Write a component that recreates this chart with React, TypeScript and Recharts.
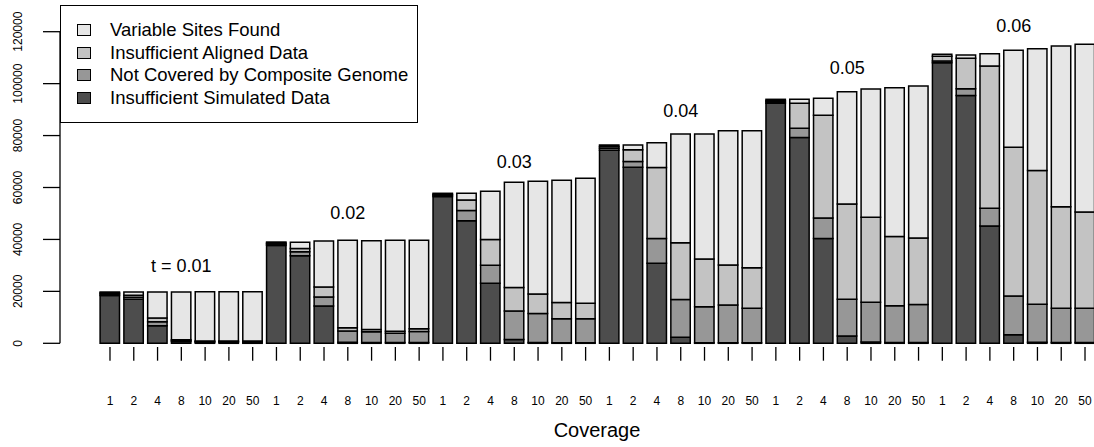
import { BarChart, Bar, XAxis, YAxis, Legend, ReferenceDot } from "recharts";

const coverage = ["1", "2", "4", "8", "10", "20", "50"];
const thetas = ["0.01", "0.02", "0.03", "0.04", "0.05", "0.06"];
const groupLabels = ["t = 0.01", "0.02", "0.03", "0.04", "0.05", "0.06"];
const groupLabelY = [29800, 50200, 69900, 89800, 106200, 122200];

// one value per bar, groups of 7 coverages per theta
const insufficientSimulated = [
  18400, 16950, 6800, 700, 400, 400, 400,
  37700, 33700, 14400, 400, 300, 300, 300,
  56500, 47200, 23100, 1500, 300, 200, 200,
  74300, 67800, 30800, 2300, 200, 200, 200,
  92400, 79300, 40400, 2800, 500, 300, 300,
  108000, 95400, 45200, 3300, 400, 300, 300,
];
const notCovered = [
  600, 800, 1500, 400, 300, 300, 300,
  500, 1600, 3400, 4300, 4100, 3600, 4200,
  500, 3900, 7000, 10900, 11200, 9300, 9300,
  800, 2200, 9600, 14600, 13900, 14550, 13300,
  600, 3500, 7900, 14200, 15300, 14200, 14600,
  700, 2600, 6800, 14900, 14600, 13200, 13200,
];
const insufficientAligned = [
  400, 750, 1400, 300, 200, 200, 200,
  400, 1250, 3850, 1300, 900, 700, 1100,
  400, 4100, 9900, 9100, 7450, 6200, 5900,
  700, 4500, 27300, 21800, 18400, 15400, 15600,
  500, 9600, 39500, 36600, 32700, 26600, 25700,
  1800, 11800, 54800, 57300, 51500, 39100, 37100,
];
const variableSites = [
  350, 1300, 10050, 18400, 18950, 18950, 19000,
  400, 2350, 17750, 33660, 34200, 35060, 34100,
  370, 2570, 18540, 40500, 43440, 47070, 48140,
  570, 1870, 9560, 41900, 48100, 51730, 52780,
  460, 1560, 6550, 43290, 49430, 57340, 58490,
  790, 1230, 4730, 37400, 46900, 61890, 64550,
];

const yTicks = [0, 20000, 40000, 60000, 80000, 100000, 120000];

const series = [
  { key: "sim", name: "Insufficient Simulated Data", fill: "#4D4D4D" },
  { key: "notcov", name: "Not Covered by Composite Genome", fill: "#979797" },
  { key: "aligned", name: "Insufficient Aligned Data", fill: "#C3C3C3" },
  { key: "variable", name: "Variable Sites Found", fill: "#E6E6E6" },
];

const data = thetas.flatMap((t, g) =>
  coverage.map((c, i) => {
    const k = g * 7 + i;
    return {
      key: `${t}-${c}`,
      cov: c,
      sim: insufficientSimulated[k],
      notcov: notCovered[k],
      aligned: insufficientAligned[k],
      variable: variableSites[k],
    };
  })
);

const font = '"Liberation Sans", Arial, Helvetica, sans-serif';

const YTick = ({ y, payload }: any) => (
  <text
    x={18}
    y={y}
    transform={`rotate(-90 18 ${y})`}
    textAnchor="middle"
    dominantBaseline="central"
    fontSize={12}
    fill="#000"
  >
    {payload.value}
  </text>
);

const XTick = ({ x, y, payload }: any) => (
  <g>
    <line x1={x} x2={x} y1={y + 3.7} y2={y + 17.4} stroke="#000" strokeWidth={1.3} />
    <text x={x} y={y + 62} textAnchor="middle" fontSize={12} fill="#000">
      {String(payload.value).split("-")[1]}
    </text>
  </g>
);

const LegendBox = () => (
  <div
    style={{
      width: 358,
      height: 118,
      border: "1.5px solid #000",
      background: "#fff",
      boxSizing: "border-box",
      paddingTop: 12.5,
      fontFamily: font,
      fontSize: 18.5,
    }}
  >
    {[...series].reverse().map((s) => (
      <div key={s.key} style={{ display: "flex", alignItems: "center", height: 22.8 }}>
        <span
          style={{
            display: "inline-block",
            width: 14,
            height: 12,
            marginLeft: 16,
            marginRight: 19,
            background: s.fill,
            border: "1.5px solid #000",
            boxSizing: "border-box",
          }}
        />
        <span>{s.name}</span>
      </div>
    ))}
  </div>
);

export default function App() {
  return (
    <div
      style={{
        position: "absolute",
        left: 0,
        top: 0,
        width: 1094,
        height: 447,
        overflow: "hidden",
        background: "#fff",
        fontFamily: font,
      }}
    >
      <BarChart
        width={1100}
        height={447}
        data={data}
        margin={{ top: 31.7, right: 3.1, bottom: 0, left: 0 }}
        barSize={19.4}
      >
        <XAxis
          dataKey="key"
          height={103.7}
          padding={{ left: 38.1, right: 0 }}
          axisLine={false}
          tickLine={false}
          tickSize={0}
          tickMargin={0}
          interval={0}
          tick={<XTick />}
          label={{
            content: () => (
              <text x={597} y={437} textAnchor="middle" fontSize={20} fill="#000">
                Coverage
              </text>
            ),
          }}
        />
        <YAxis
          width={60}
          domain={[0, 120000]}
          ticks={yTicks}
          interval={0}
          tickSize={17}
          axisLine={{ stroke: "#000", strokeWidth: 1.3 }}
          tickLine={{ stroke: "#000", strokeWidth: 1.3 }}
          tick={<YTick />}
        />
        {series.map((s) => (
          <Bar
            key={s.key}
            dataKey={s.key}
            name={s.name}
            stackId="a"
            fill={s.fill}
            stroke="#000"
            strokeWidth={1.5}
            isAnimationActive={false}
          />
        ))}
        {thetas.map((t, g) => (
          <ReferenceDot
            key={t}
            x={`${t}-8`}
            y={groupLabelY[g]}
            ifOverflow="visible"
            shape={(p: any) => (
              <text x={p.cx} y={p.cy + 6.5} textAnchor="middle" fontSize={18} fill="#000">
                {groupLabels[g]}
              </text>
            )}
          />
        ))}
        <Legend
          layout="vertical"
          align="center"
          verticalAlign="middle"
          wrapperStyle={{ left: 60, top: 5, width: 358, height: 118 }}
          content={() => <LegendBox />}
        />
      </BarChart>
    </div>
  );
}
